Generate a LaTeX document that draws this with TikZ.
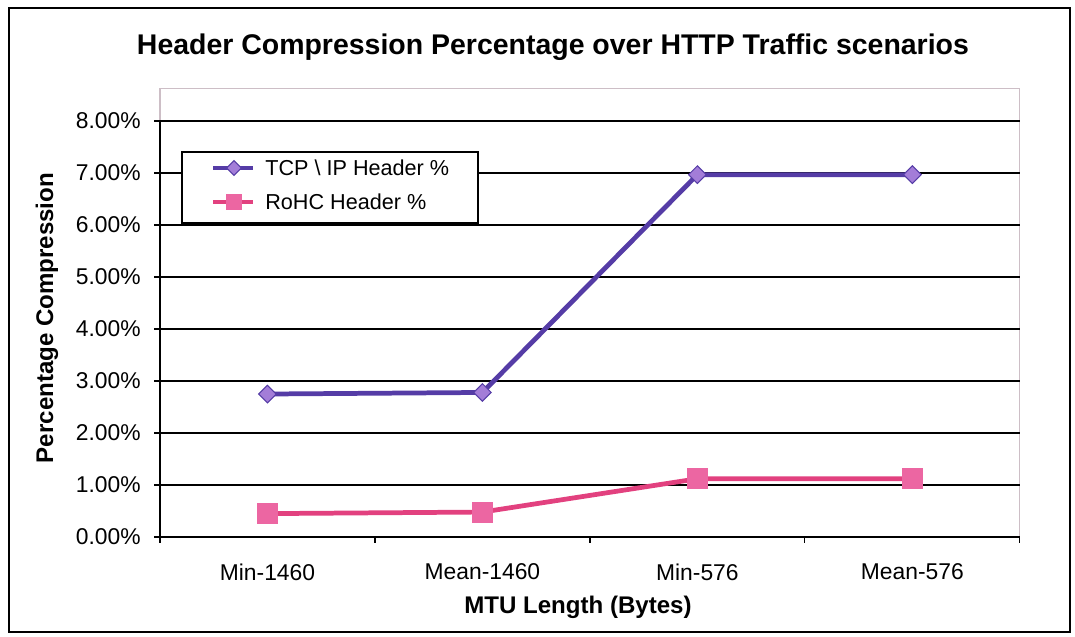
\documentclass[tikz,border=0pt]{standalone}
\usepackage{fontspec}
\setmainfont{Liberation Sans}
\usetikzlibrary{shapes.geometric}

\definecolor{tcpcol}{HTML}{553CA6}
\definecolor{tcpfill}{HTML}{A37DD8}
\definecolor{rohccol}{HTML}{E2417F}
\definecolor{rohcfill}{HTML}{EC66A2}
\definecolor{plotedge}{HTML}{CDBEC6}

\tikzset{
  charttitle/.style={font=\bfseries\fontsize{16.2pt}{19pt}\selectfont, inner sep=0pt},
  axistitle/.style={font=\bfseries\fontsize{13.7pt}{16pt}\selectfont, inner sep=0pt},
  ticklabel/.style={anchor=east, font=\fontsize{13pt}{15pt}\selectfont, inner sep=0pt},
  catlabel/.style={font=\fontsize{13pt}{15pt}\selectfont, inner sep=0pt},
  legendtext/.style={anchor=west, font=\fontsize{12.3pt}{14pt}\selectfont, inner sep=0pt},
  gridline/.style={black, line width=0.7pt},
  tcpline/.style={tcpcol, line width=2.7pt},
  rohcline/.style={rohccol, line width=2.7pt},
  tcpmark/.style={diamond, aspect=1, draw=tcpcol, fill=tcpfill, line width=0.6pt, minimum size=0.36cm, inner sep=0pt},
  rohcmark/.style={rectangle, draw=rohcfill, fill=rohcfill, minimum size=0.4cm, inner sep=0pt}
}

\begin{document}
\begin{tikzpicture}[x=0.02cm,y=0.02cm]
  \useasboundingbox (0,0) rectangle (1075,636);

  % Outer frame and title
  \draw[line width=1.1pt] (9,4) rectangle (1070,628);
  \node[charttitle] (title) at (553,589) {Header Compression Percentage over HTTP Traffic scenarios};

  \begin{scope}[shift={(160,99)}, x=4.3cm, y=1.04cm]
    % Plot area and grid
    \draw[plotedge, line width=0.6pt] (0,0) rectangle (4,8.63);
    \foreach \v in {1,...,8}
      \draw[gridline] (0,\v) -- (4,\v);
    \foreach \v in {0,...,8} {
      \draw[gridline] (0,\v) -- ++(-3.4pt,0);
      \node[ticklabel] (ylab\v) at ([xshift=-0.38cm]0,\v) {\v.00\%};
    }

    % Axes
    \draw[gridline] (0,8) -- (0,0) -- (4,0);
    \foreach \c in {0,...,4}
      \draw[gridline] (\c,0) -- ++(0,-3.4pt);

    % Categories
    \node[catlabel] (cat1) at ([yshift=-0.7cm]0.5,0) {Min-1460};
    \node[catlabel] (cat2) at ([yshift=-0.7cm]1.5,0) {Mean-1460};
    \node[catlabel] (cat3) at ([yshift=-0.7cm]2.5,0) {Min-576};
    \node[catlabel] (cat4) at ([yshift=-0.7cm]3.5,0) {Mean-576};

    % TCP \ IP series
    \coordinate (t1) at (0.5,2.75);
    \coordinate (t2) at (1.5,2.78);
    \coordinate (t3) at (2.5,6.97);
    \coordinate (t4) at (3.5,6.97);
    \draw[tcpline, line join=round] (t1) -- (t2) -- (t3) -- (t4);
    \node[tcpmark] (tm1) at (t1) {};
    \node[tcpmark] (tm2) at (t2) {};
    \node[tcpmark] (tm3) at (t3) {};
    \node[tcpmark] (tm4) at (t4) {};

    % RoHC series
    \coordinate (r1) at (0.5,0.45);
    \coordinate (r2) at (1.5,0.48);
    \coordinate (r3) at (2.5,1.12);
    \coordinate (r4) at (3.5,1.12);
    \draw[rohcline, line join=round] (r1) -- (r2) -- (r3) -- (r4);
    \node[rohcmark] (rm1) at (r1) {};
    \node[rohcmark] (rm2) at (r2) {};
    \node[rohcmark] (rm3) at (r3) {};
    \node[rohcmark] (rm4) at (r4) {};
  \end{scope}

  % Axis titles
  \node[axistitle] (xtitle) at (578,29) {MTU Length (Bytes)};
  \node[axistitle, rotate=90] (ytitle) at (47,318) {Percentage Compression};

  % Legend
  \draw[fill=white, line width=0.8pt] (182,413) rectangle (478,484);
  \coordinate (la1) at (213,468);
  \coordinate (lb1) at (253,468);
  \coordinate (la2) at (213,434);
  \coordinate (lb2) at (253,434);
  \draw[tcpline] (la1) -- (lb1);
  \node[tcpmark, minimum size=0.3cm] (lm1) at (234,468) {};
  \node[legendtext] (lt1) at (265,468) {TCP \textbackslash{} IP Header \%};
  \draw[rohcline] (la2) -- (lb2);
  \node[rohcmark, minimum size=0.3cm] (lm2) at (234,434) {};
  \node[legendtext] (lt2) at (265,434) {RoHC Header \%};
\end{tikzpicture}
\end{document}
